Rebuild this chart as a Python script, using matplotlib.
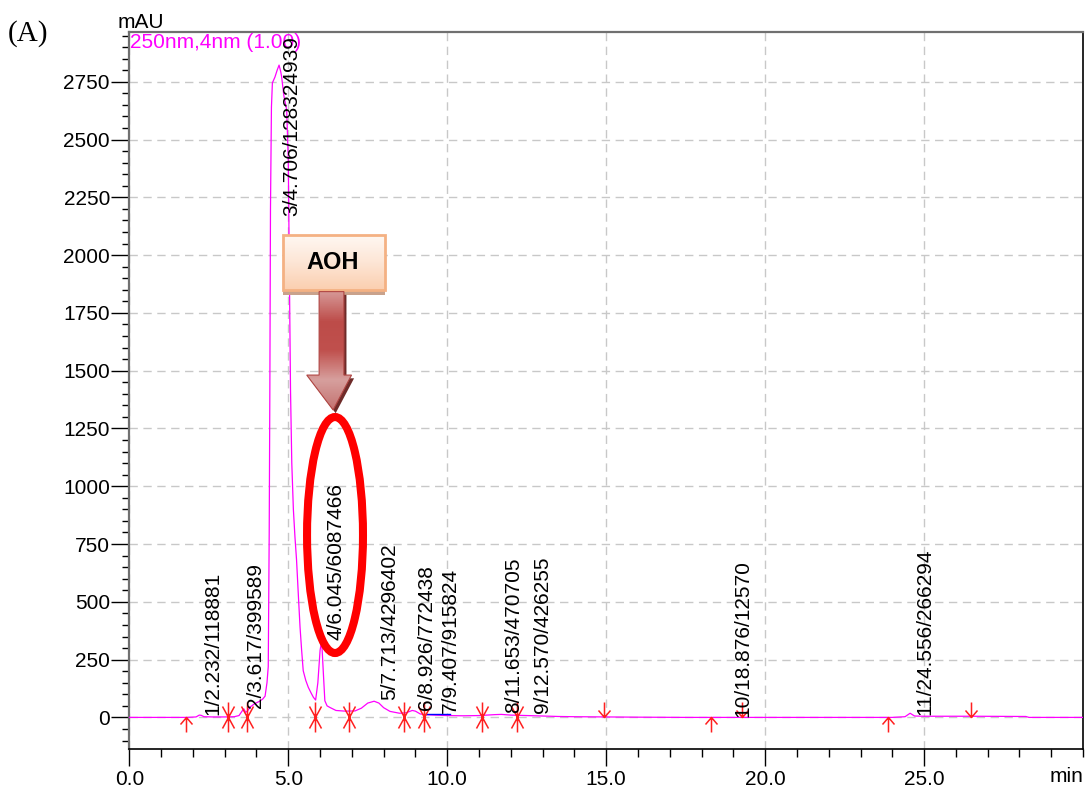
import numpy as np
import matplotlib.pyplot as plt
from matplotlib.path import Path
from matplotlib.patches import Ellipse, Rectangle, Polygon
from matplotlib.colors import LinearSegmentedColormap
from matplotlib.ticker import MultipleLocator, FormatStrFormatter

plt.rcParams['font.family'] = ['Liberation Sans', 'DejaVu Sans']

# chromatogram, 250nm
time_min = [0.0, 1.0, 1.8, 2.10, 2.20, 2.26, 2.35, 2.60, 3.00, 3.30, 3.45, 3.55,
            3.60, 3.66, 3.72, 3.80, 3.95, 4.10, 4.20, 4.27, 4.33, 4.37, 4.40,
            4.42, 4.44, 4.47, 4.50, 4.58, 4.65, 4.71, 4.76, 4.79, 4.86, 4.95,
            5.00, 5.03, 5.07, 5.11, 5.16, 5.21, 5.26, 5.32, 5.37, 5.42, 5.47,
            5.55, 5.63, 5.72, 5.79, 5.86, 5.93, 6.00, 6.05, 6.10, 6.15, 6.22,
            6.31, 6.50, 6.80, 7.10, 7.30, 7.50, 7.70, 7.85, 8.00, 8.20, 8.50,
            8.70, 8.90, 9.00, 9.15, 9.30, 9.60, 10.0, 10.5, 11.0, 11.5, 11.7,
            12.0, 12.5, 13.0, 13.5, 14.0, 15.0, 16.0, 17.5, 19.0, 20.0, 24.0,
            24.40, 24.56, 24.70, 25.0, 26.5, 28.2, 28.3, 30.0]
signal_mau = [0, 0, 0, 2, 10, 9, 3, 2, 2, 3, 8, 28,
              37, 22, 28, 45, 60, 70, 80, 92, 150, 220, 800,
              1417, 2200, 2640, 2745, 2770, 2800, 2822, 2795, 2772, 2690, 2628,
              2411, 1979, 1417, 1100, 900, 780, 681, 520, 390, 290, 202,
              160, 130, 105, 87, 75, 150, 290, 332, 200, 72, 50,
              43, 30, 27, 28, 40, 62, 70, 62, 42, 26, 18,
              20, 30, 27, 15, 12, 10, 8, 7, 8, 12, 13,
              10, 8, 6, 4, 3, 2, 1, 0, 0, 0, 0,
              3, 18, 6, 5, 5, 4, 0, 0]

peak_labels = ['1/2.232/118881', '2/3.617/399589', '3/4.706/128324939',
               '4/6.045/6087466', '5/7.713/4296402', '6/8.926/772438',
               '7/9.407/915824', '8/11.653/470705', '9/12.570/426255',
               '10/18.876/12570', '11/24.556/266294']
label_x = [2.63, 3.98, 5.12, 6.49, 8.20, 9.35, 10.11, 12.08, 12.99, 19.29, 25.03]
label_y = [10, 40, 2168, 335, 75, 32, 18, 18, 18, 0, 12]

# integration marks
star_t = [3.11, 3.69, 5.84, 6.92, 8.64, 9.27, 11.08, 12.21]
star_y = [0, 0, 0, 0, 0, 0, 0, 0]
start_t = [1.78, 18.30, 23.85]
start_y = [0, 0, 0]
end_t = [14.92, 19.27, 26.48]
end_y = [0, 0, 0]
base_t = [9.30, 10.08]
base_y = [14, 14]

fig = plt.figure(figsize=(10.85, 7.87), dpi=100)
ax = fig.add_axes([0.1192, 0.0479, 0.8790, 0.9111])

ax.plot(time_min, signal_mau, color='#ff00ff', lw=0.9, zorder=3)
ax.plot(base_t, base_y, color='#0000ff', lw=1.0, zorder=3)

# marker shapes (tip / centre at the data point)
star = Path([(0, -15), (0, 15), (-6, -11), (6, 11), (-6, 11), (6, -11)],
            [Path.MOVETO, Path.LINETO] * 3)
up = Path([(0, 0), (0, -15), (-6, -7), (0, 0), (6, -7)],
          [Path.MOVETO, Path.LINETO, Path.MOVETO, Path.LINETO, Path.LINETO])
down = Path([(0, 0), (0, 15), (-6, 7), (0, 0), (6, 7)],
            [Path.MOVETO, Path.LINETO, Path.MOVETO, Path.LINETO, Path.LINETO])
for tt, yy, mk in [(star_t, star_y, star), (start_t, start_y, up), (end_t, end_y, down)]:
    ax.plot(tt, yy, ls='none', marker=mk, ms=21.6, mec='#ff2020', mfc='none',
            mew=1.1, zorder=4)

for s, x, y in zip(peak_labels, label_x, label_y):
    ax.text(x, y, s, rotation=90, ha='center', va='bottom', fontsize=15,
            color='black', zorder=6)

ax.text(0.001, 0.999, '250nm,4nm (1.00)', transform=ax.transAxes, ha='left',
        va='top', fontsize=15, color='#ff00ff', zorder=5)

# AOH call-out box
bx0, bx1, by0, by1 = 4.84, 8.04, 1848, 2087
ax.add_patch(Rectangle((bx0, by0 - 22), bx1 - bx0, 22, facecolor='#c9a28c',
                       edgecolor='none', hatch='....', zorder=7))
box = Rectangle((bx0, by0), bx1 - bx0, by1 - by0, facecolor='none',
                edgecolor='#f4b183', lw=2, zorder=9)
ax.add_patch(box)
box_cmap = LinearSegmentedColormap.from_list('box', ['#fbcfb0', '#fde6d6', '#fff8f3'])
im = ax.imshow(np.linspace(0, 1, 64).reshape(-1, 1)[::-1], cmap=box_cmap,
               extent=[bx0, bx1, by0, by1], aspect='auto', zorder=8)
im.set_clip_path(box)
ax.text((bx0 + bx1) / 2 - 0.05, (by0 + by1) / 2, 'AOH', ha='center', va='center',
        fontsize=17, fontweight='bold', zorder=10)

# block arrow
arrow_xy = [(5.97, 1842), (6.75, 1842), (6.75, 1481), (6.99, 1481), (6.41, 1330),
            (5.58, 1481), (5.97, 1481)]
shadow = Polygon([(x + 0.08, y - 14) for x, y in arrow_xy], closed=True,
                 facecolor='#6e2b29', edgecolor='none', zorder=7)
ax.add_patch(shadow)
arrow = Polygon(arrow_xy, closed=True, facecolor='none', edgecolor='#b04643',
                lw=0.8, zorder=9)
ax.add_patch(arrow)
arr_cmap = LinearSegmentedColormap.from_list(
    'arr', ['#c47371', '#d7a09e', '#c0504d', '#bd4c49', '#d69896'])
im2 = ax.imshow(np.linspace(0, 1, 64).reshape(-1, 1)[::-1], cmap=arr_cmap,
                extent=[5.58, 6.99, 1330, 1842], aspect='auto', zorder=8)
im2.set_clip_path(arrow)

ax.add_patch(Ellipse((6.47, 789), 1.76, 1021, facecolor='none',
                     edgecolor='#ff0000', lw=5.8, zorder=11))

ax.set_xlim(0, 30)
ax.set_ylim(-138, 2964)
ax.xaxis.set_major_locator(MultipleLocator(5))
ax.xaxis.set_minor_locator(MultipleLocator(1))
ax.xaxis.set_major_formatter(FormatStrFormatter('%.1f'))
ax.set_xticks([0, 5, 10, 15, 20, 25])
ax.yaxis.set_major_locator(MultipleLocator(250))
ax.yaxis.set_minor_locator(MultipleLocator(50))
ax.set_yticks(np.arange(0, 2751, 250))
ax.tick_params(axis='y', which='major', length=13, width=1, pad=1, labelsize=15)
ax.tick_params(axis='y', which='minor', length=5, width=1)
ax.tick_params(axis='x', which='major', length=12, width=1, pad=3, labelsize=15)
ax.tick_params(axis='x', which='minor', length=6, width=1)
ax.grid(True, which='major', color='#c8c8c8', linestyle=(0, (6, 4)), lw=1, zorder=0)
ax.set_axisbelow(True)

for side in ['left', 'top']:
    ax.spines[side].set_color('#707070')
    ax.spines[side].set_linewidth(1.6)
for side in ['bottom', 'right']:
    ax.spines[side].set_color('black')
    ax.spines[side].set_linewidth(1.2)

fig.text(118 / 1085, 1 - 28 / 787, 'mAU', ha='left', va='baseline', fontsize=15)
fig.text(1083 / 1085, 1 - 767 / 787, 'min', ha='right', va='top', fontsize=15)
fig.text(8 / 1085, 1 - 34 / 787, '(A)', ha='left', va='center', fontsize=21,
         family=['Liberation Serif', 'DejaVu Serif'])

fig.savefig('out.png', dpi=100)
